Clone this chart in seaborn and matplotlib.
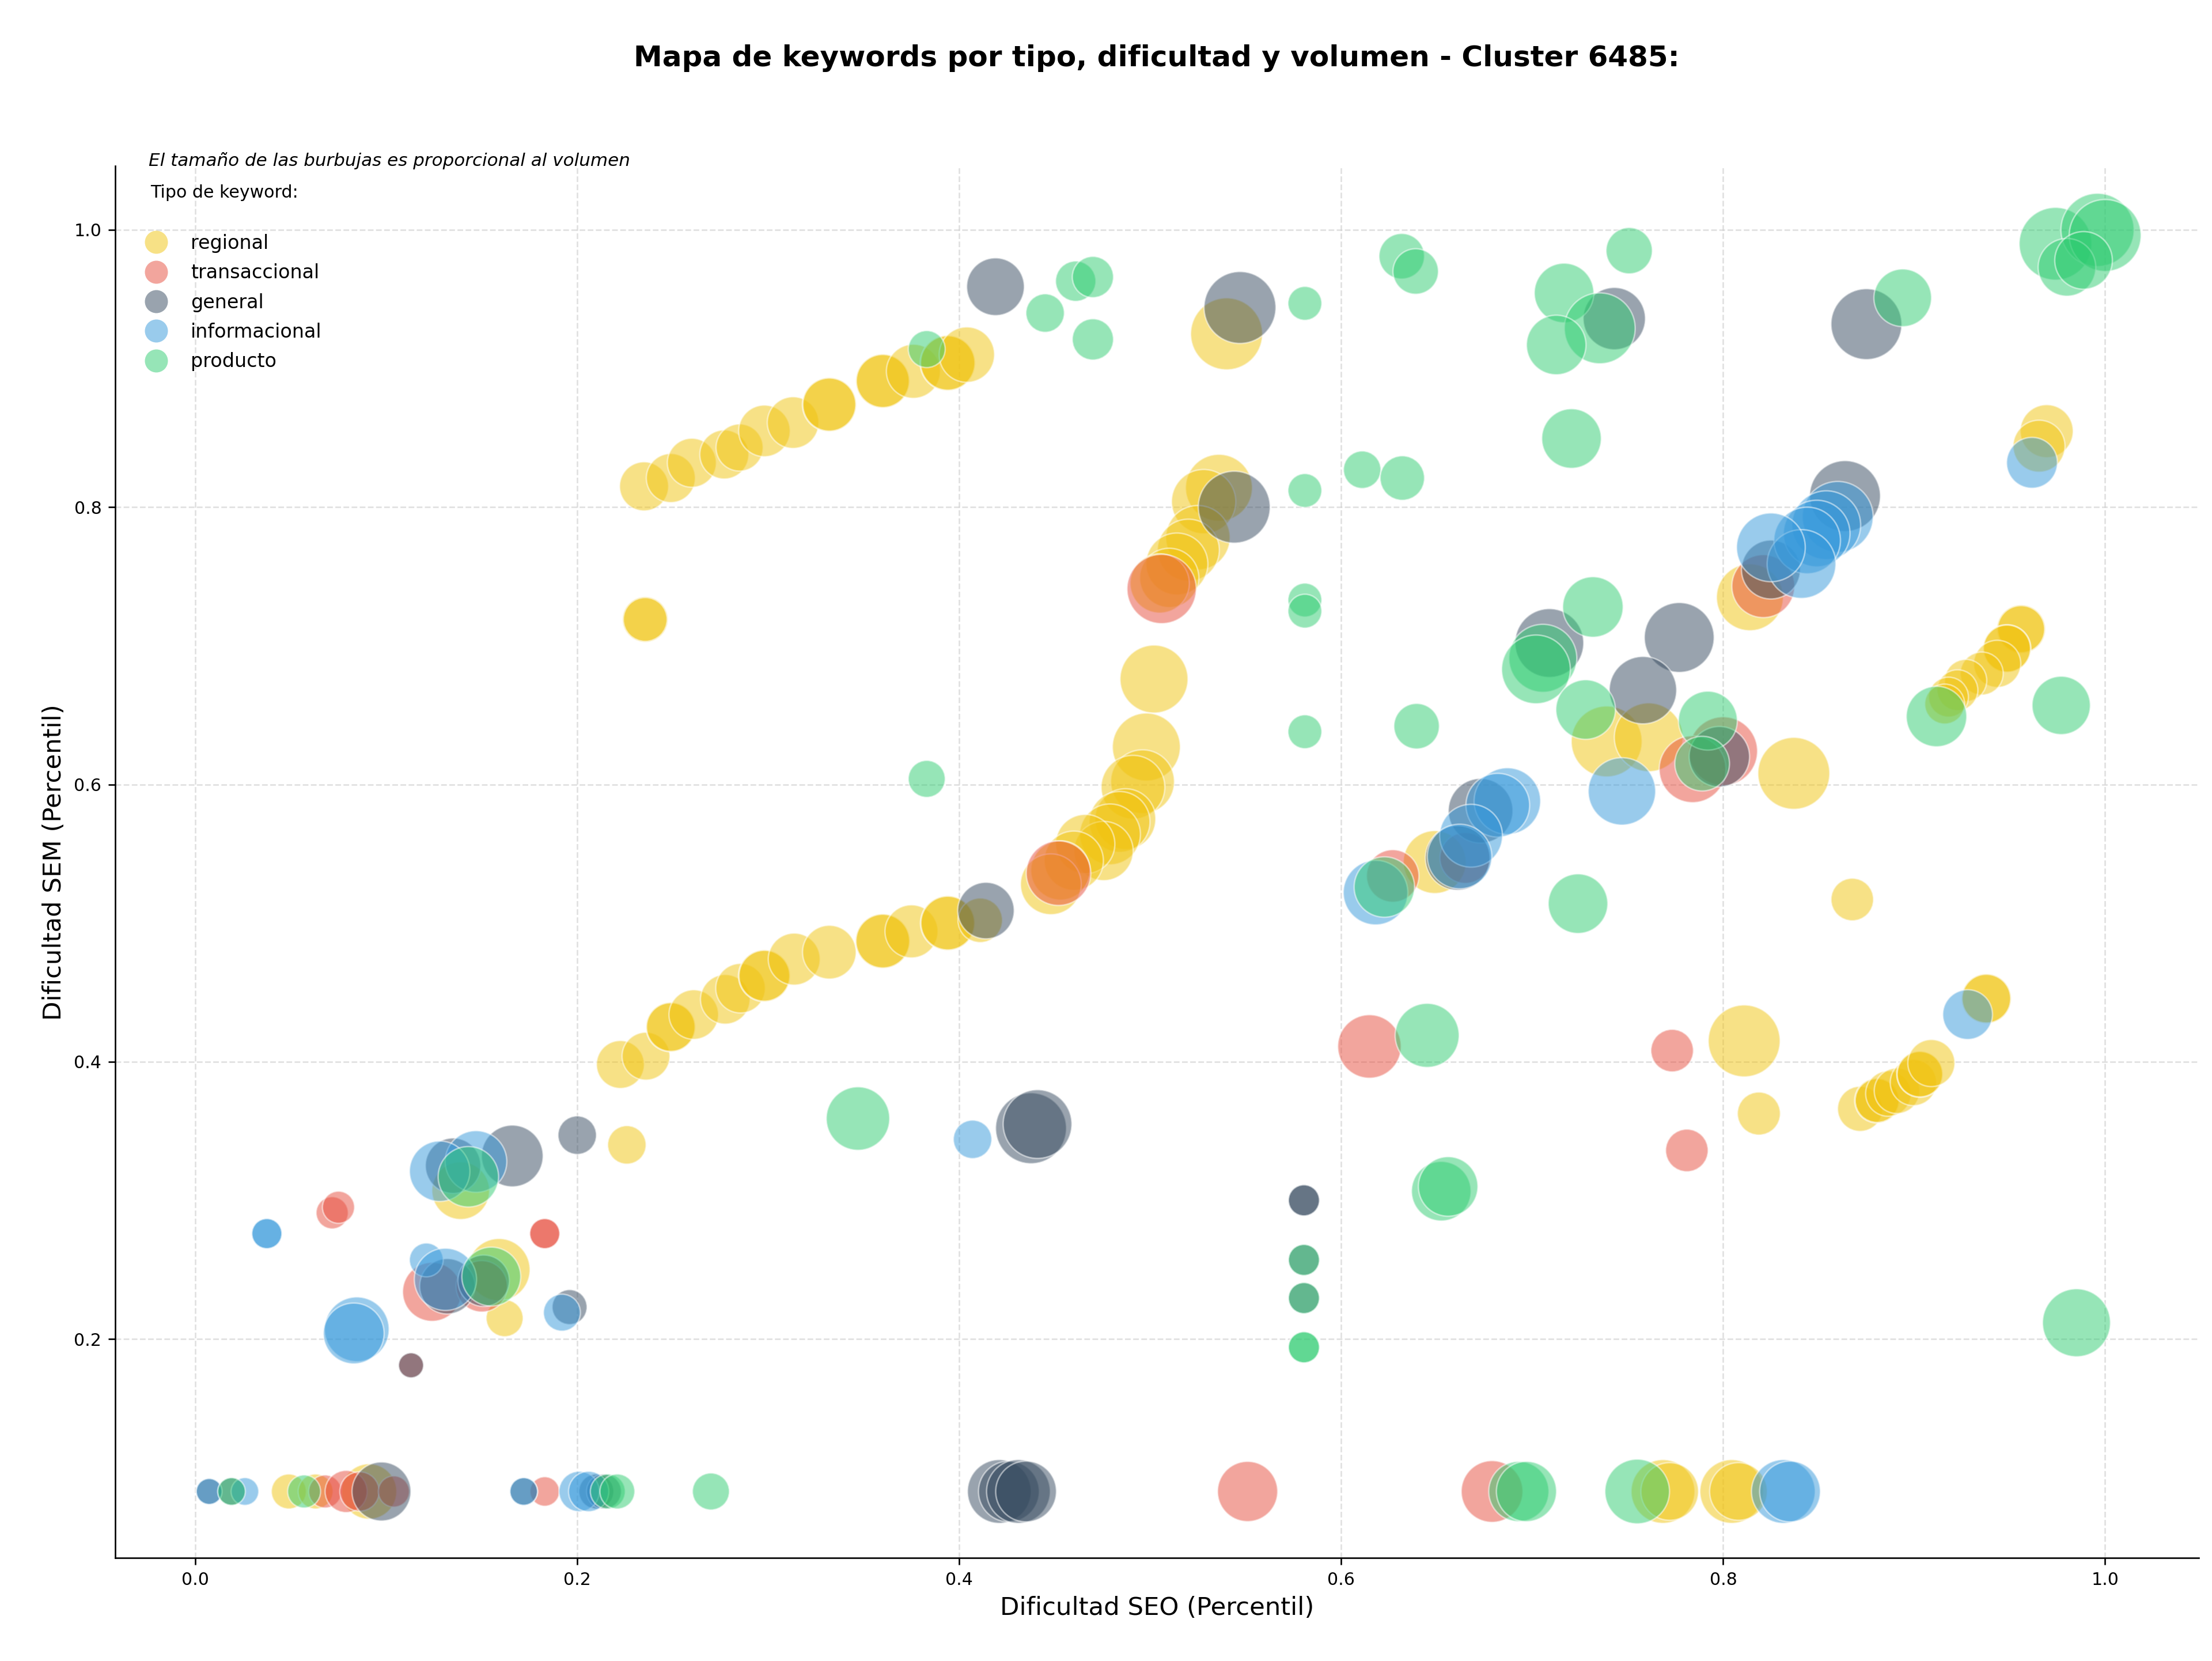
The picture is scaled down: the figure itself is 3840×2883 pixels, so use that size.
import matplotlib
matplotlib.use("Agg")
import matplotlib.pyplot as plt
from matplotlib.lines import Line2D
import pandas as pd
import seaborn as sns

# Tipos de keyword y colores
tipos = ["regional", "transaccional", "general", "informacional", "producto"]
colores = {
    "regional": "#f1c40f",
    "transaccional": "#e74c3c",
    "general": "#34495e",
    "informacional": "#3498db",
    "producto": "#2ecc71",
}

# Datos: dificultad SEO, dificultad SEM y volumen (relativo)
regional_seo = [0.235, 0.249, 0.260, 0.277, 0.285, 0.298, 0.313, 0.332, 0.332, 0.360, 0.360, 0.376,
                0.394, 0.394, 0.404, 0.2356, 0.2356, 0.540,
                0.536, 0.528, 0.525, 0.520, 0.514, 0.510, 0.505, 0.502, 0.498, 0.496, 0.491, 0.487,
                0.484, 0.479, 0.4756, 0.466, 0.460, 0.453, 0.448,
                0.2226, 0.236, 0.249, 0.249, 0.261, 0.2775, 0.2855, 0.298, 0.298, 0.3136, 0.332, 0.360,
                0.360, 0.375, 0.394, 0.394, 0.411, 0.226,
                0.139, 0.159, 0.162,
                0.049, 0.063, 0.091, 0.7685, 0.772, 0.8045, 0.808,
                0.739, 0.761, 0.814, 0.837, 0.649, 0.8676,
                0.811, 0.8187, 0.8717, 0.8806, 0.8806, 0.8865, 0.891, 0.8996, 0.903, 0.903, 0.909,
                0.9378, 0.9378,
                0.9694, 0.9654, 0.956, 0.956, 0.9486, 0.9486, 0.9435, 0.9354, 0.927, 0.9227, 0.918, 0.916]
regional_sem = [0.815, 0.821, 0.832, 0.838, 0.843, 0.855, 0.861, 0.874, 0.874, 0.891, 0.891, 0.898,
                0.904, 0.904, 0.910, 0.719, 0.719, 0.925,
                0.814, 0.804, 0.778, 0.769, 0.759, 0.749, 0.745, 0.676, 0.627, 0.602, 0.598, 0.575,
                0.573, 0.564, 0.552, 0.557, 0.545, 0.538, 0.528,
                0.398, 0.404, 0.425, 0.425, 0.434, 0.445, 0.453, 0.462, 0.462, 0.474, 0.479, 0.487,
                0.487, 0.494, 0.500, 0.500, 0.502, 0.340,
                0.307, 0.250, 0.215,
                0.09, 0.09, 0.09, 0.09, 0.09, 0.09, 0.09,
                0.631, 0.634, 0.735, 0.608, 0.544, 0.517,
                0.415, 0.3626, 0.366, 0.372, 0.372, 0.377, 0.379, 0.385, 0.391, 0.391, 0.399,
                0.4455, 0.4455,
                0.8548, 0.844, 0.712, 0.712, 0.698, 0.698, 0.687, 0.680, 0.675, 0.668, 0.663, 0.658]
regional_vol = [650, 650, 650, 650, 600, 720, 720, 790, 760, 790, 760, 790,
                830, 800, 830, 560, 520, 1400,
                1210, 1120, 1120, 1040, 1040, 950, 950, 1250, 1250, 1100, 1100, 1000,
                1000, 1000, 950, 950, 950, 950, 1000,
                620, 620, 665, 640, 665, 665, 665, 730, 700, 730, 780, 810,
                780, 760, 810, 780, 535, 400,
                900, 1050, 370,
                330, 330, 830, 1100, 900, 1100, 900,
                1360, 1280, 1210, 1400, 1070, 490,
                1400, 500, 550, 550, 520, 560, 560, 580, 580, 560, 600,
                670, 640,
                760, 730, 640, 600, 620, 600, 600, 500, 480, 450, 430, 430]

transaccional_seo = [0.0717, 0.075, 0.183, 0.183, 0.124, 0.150, 0.113, 0.068, 0.079, 0.086, 0.104, 0.183,
                     0.506, 0.452, 0.551, 0.679, 0.821, 0.800, 0.784, 0.627, 0.665, 0.6148, 0.7733, 0.781]
transaccional_sem = [0.291, 0.295, 0.276, 0.276, 0.234, 0.238, 0.181, 0.09, 0.09, 0.09, 0.09, 0.09,
                     0.741, 0.536, 0.09, 0.09, 0.743, 0.624, 0.611, 0.534, 0.547, 0.411, 0.408, 0.336]
transaccional_vol = [280, 280, 245, 245, 940, 715, 170, 295, 480, 420, 262, 235,
                     1300, 1130, 980, 1030, 1070, 1280, 1210, 745, 700, 1090, 490, 490]

general_seo = [0.200, 0.166, 0.135, 0.132, 0.151, 0.196, 0.113, 0.0073, 0.019, 0.0975, 0.172, 0.210, 0.214,
               0.419, 0.547, 0.544, 0.414, 0.4376, 0.441, 0.421, 0.426, 0.431, 0.435,
               0.8638, 0.825, 0.709, 0.777, 0.758, 0.798, 0.673, 0.661, 0.743, 0.875,
               0.5805, 0.5805, 0.5805, 0.5805]
general_sem = [0.347, 0.332, 0.325, 0.238, 0.242, 0.223, 0.181, 0.09, 0.09, 0.09, 0.09, 0.09, 0.09,
               0.959, 0.944, 0.800, 0.509, 0.352, 0.355, 0.09, 0.09, 0.09, 0.09,
               0.808, 0.755, 0.702, 0.706, 0.668, 0.620, 0.581, 0.547, 0.936, 0.932,
               0.300, 0.300, 0.257, 0.2295]
general_vol = [400, 1030, 830, 830, 715, 330, 170, 182, 207, 940, 207, 330, 330,
               900, 1400, 1400, 865, 1360, 1280, 1100, 1000, 1100, 1000,
               1360, 940, 1280, 1320, 1230, 990, 1130, 1130, 1050, 1360,
               262, 262, 262, 262]

informacional_seo = [0.0375, 0.0375, 0.121, 0.147, 0.128, 0.131, 0.192, 0.0846, 0.083, 0.0073, 0.026, 0.172,
                     0.201, 0.206, 0.407, 0.8315, 0.835, 0.860, 0.854, 0.849, 0.844, 0.841, 0.825,
                     0.747, 0.687, 0.682, 0.668, 0.662, 0.618, 0.928, 0.9617]
informacional_sem = [0.276, 0.276, 0.257, 0.328, 0.321, 0.243, 0.219, 0.207, 0.204, 0.09, 0.09, 0.09,
                     0.09, 0.09, 0.344, 0.09, 0.09, 0.793, 0.787, 0.781, 0.776, 0.759, 0.771,
                     0.595, 0.588, 0.585, 0.563, 0.548, 0.522, 0.434, 0.832]
informacional_vol = [245, 245, 310, 1030, 990, 1050, 370, 1130, 1000, 182, 207, 207,
                     440, 440, 400, 1100, 1000, 1360, 1280, 1200, 1200, 1280, 1280,
                     1230, 1200, 1100, 1070, 1130, 1130, 670, 700]

producto_seo = [0.383, 0.445, 0.461, 0.470, 0.470, 0.581, 0.581, 0.581, 0.581, 0.581, 0.383, 0.347,
                0.5805, 0.5805, 0.5805, 0.5805, 0.143, 0.155, 0.019, 0.057, 0.216, 0.221, 0.270,
                0.693, 0.697, 0.755, 0.611, 0.632, 0.7206, 0.7318, 0.7056, 0.702, 0.728, 0.792,
                0.789, 0.6395, 0.6226, 0.724, 0.6317, 0.639, 0.7508, 0.7167, 0.7354, 0.7126, 0.894,
                0.974, 0.996, 1.0, 0.980, 0.9887, 0.645, 0.6524, 0.656, 0.985, 0.9117, 0.977]
producto_sem = [0.914, 0.940, 0.963, 0.966, 0.921, 0.947, 0.812, 0.733, 0.725, 0.638, 0.604, 0.359,
                0.257, 0.2295, 0.194, 0.194, 0.317, 0.245, 0.09, 0.09, 0.09, 0.09, 0.09,
                0.09, 0.09, 0.09, 0.827, 0.821, 0.8495, 0.728, 0.691, 0.683, 0.654, 0.646,
                0.615, 0.642, 0.526, 0.514, 0.981, 0.970, 0.985, 0.9545, 0.929, 0.917, 0.951,
                0.990, 1.0, 0.996, 0.973, 0.978, 0.419, 0.3066, 0.310, 0.2117, 0.649, 0.657]
producto_vol = [370, 400, 440, 460, 460, 310, 310, 310, 310, 310, 370, 1090,
                262, 262, 262, 262, 990, 940, 207, 295, 330, 330, 370,
                980, 980, 1130, 380, 535, 960, 990, 1250, 1280, 960, 940,
                810, 560, 990, 960, 560, 560, 580, 960, 1360, 960, 900,
                1430, 1450, 1400, 900, 900, 1110, 960, 960, 1250, 990, 920]

# Tabla larga para seaborn (orden de dibujo = orden de tipos)
series = {
    "regional": (regional_seo, regional_sem, regional_vol),
    "transaccional": (transaccional_seo, transaccional_sem, transaccional_vol),
    "general": (general_seo, general_sem, general_vol),
    "informacional": (informacional_seo, informacional_sem, informacional_vol),
    "producto": (producto_seo, producto_sem, producto_vol),
}
frames = []
for tipo in tipos:
    seo, sem, vol = series[tipo]
    frames.append(pd.DataFrame({"seo": seo, "sem": sem, "volumen": vol, "tipo": tipo}))
df = pd.concat(frames, ignore_index=True)

sns.set_style("ticks")
plt.rcParams["font.family"] = ["DejaVu Sans"]
plt.rcParams.update({"text.color": "black", "axes.labelcolor": "black",
                     "xtick.color": "black", "ytick.color": "black",
                     "axes.edgecolor": "black"})

fig, ax = plt.subplots(figsize=(16, 12.0125), dpi=240)
fig.subplots_adjust(left=0.052, right=0.994, bottom=0.062, top=0.900)

vmin, vmax = df["volumen"].min(), df["volumen"].max()
sns.scatterplot(data=df, x="seo", y="sem", hue="tipo", hue_order=tipos, palette=colores,
                size="volumen", sizes=(vmin, vmax), size_norm=(vmin, vmax),
                alpha=0.5, edgecolor="white", linewidth=0.8, legend=False, ax=ax)

ax.set_xlim(-0.042, 1.049)
ax.set_ylim(0.042, 1.046)
ax.set_xticks([0.0, 0.2, 0.4, 0.6, 0.8, 1.0])
ax.set_yticks([0.2, 0.4, 0.6, 0.8, 1.0])
ax.tick_params(labelsize=9)
ax.grid(True, linestyle="--", color="#cccccc", alpha=0.6, linewidth=0.8)
ax.set_axisbelow(True)
sns.despine(ax=ax)

ax.set_xlabel("Dificultad SEO (Percentil)", fontsize=13)
ax.set_ylabel("Dificultad SEM (Percentil)", fontsize=13)
ax.set_title("Mapa de keywords por tipo, dificultad y volumen - Cluster 6485:",
             fontsize=15, fontweight="bold", pad=52)

# Textos y leyenda
ax.text(0.016, 1.004, "El tamaño de las burbujas es proporcional al volumen",
        transform=ax.transAxes, fontsize=9.3, style="italic", va="center", ha="left")
ax.text(0.017, 0.981, "Tipo de keyword:", transform=ax.transAxes, fontsize=9,
        va="center", ha="left")

handles = [Line2D([0], [0], marker="o", linestyle="", markersize=12,
                  markerfacecolor=colores[t], markeredgecolor="none", alpha=0.5, label=t)
           for t in tipos]
ax.legend(handles=handles, loc="upper left", bbox_to_anchor=(0.004, 0.961), frameon=False,
          fontsize=10, handletextpad=0.8, labelspacing=0.55, borderaxespad=0.3)

fig.savefig("out.png", dpi=240)
